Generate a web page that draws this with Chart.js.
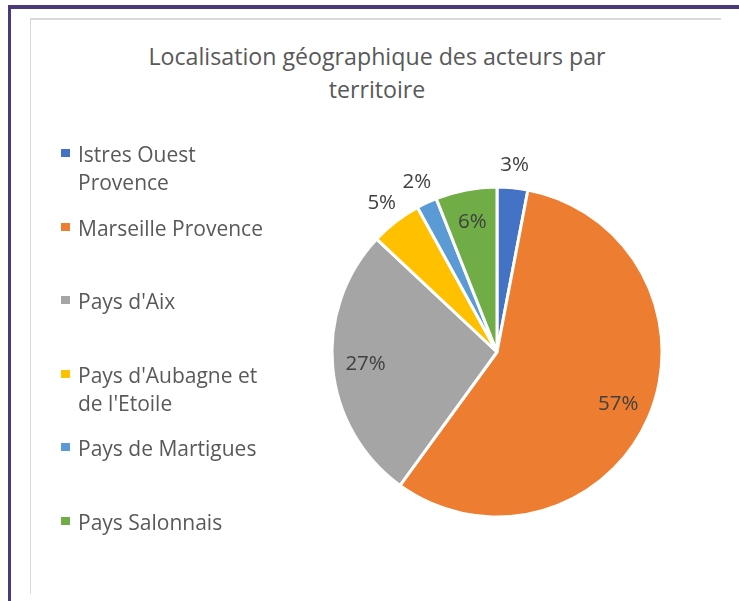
<!DOCTYPE html>
<html lang="fr">
<head>
    <meta charset="UTF-8">
    <title>Localisation géographique des acteurs</title>
    <script src="https://cdn.jsdelivr.net/npm/chart.js@4.4.1/dist/chart.umd.min.js"></script>
    <style>
        html, body { margin: 0; padding: 0; background: #fff; }
        body { width: 739px; height: 601px; position: relative; overflow: hidden; font-family: "Open Sans", sans-serif; }
        /* purple frame (left + top) */
        .frame {
            position: absolute; left: 8px; top: 5px; right: 0; bottom: 0;
            border-left: 3px solid #4a3a7c;
            border-top: 4px solid #4a3a7c;
        }
        /* light card */
        .card {
            position: absolute; left: 30px; top: 18px; width: 690px; height: 574px;
            border-left: 1px solid #d9d9d9;
            border-top: 2px solid #d9d9d9;
        }
        #title { position: absolute; left: 32px; top: 40px; width: 690px; text-align: center; color: #595959; font-size: 23.2px; line-height: 33px; }
        #chart-box { position: absolute; left: 31px; top: 20px; width: 689px; height: 572px; }
        #legend { position: absolute; left: 61px; top: 140px; margin: 0; padding: 0; list-style: none; }
        #legend li { position: relative; height: 73.6px; padding-left: 17px; width: 196px; color: #595959; font-size: 21px; line-height: 28px; }
        #legend li span.box { position: absolute; left: 0; top: 9px; width: 9px; height: 8px; }
    </style>
</head>
<body>
    <div class="frame"></div>
    <div class="card"></div>
    <div id="title"></div>
    <div id="chart-box"><canvas id="myChart"></canvas></div>
    <ul id="legend"></ul>

<script>
    // chart data
    var titleLines = ['Localisation géographique des acteurs par', 'territoire'];
    var territories = ['Istres Ouest Provence', 'Marseille Provence', "Pays d'Aix", "Pays d'Aubagne et de l'Etoile", 'Pays de Martigues', 'Pays Salonnais'];
    var shares = [3, 57, 27, 5, 2, 6];
    var colors = ['#4472C4', '#ED7D31', '#A5A5A5', '#FFC000', '#5B9BD5', '#70AD47'];

    document.getElementById('title').innerHTML = titleLines.join('<br>');

    // percent labels, small slices go outside
    var pieLabels = {
        id: 'pieLabels',
        afterDatasetsDraw: function(chart) {
            var ctx = chart.ctx;
            var meta = chart.getDatasetMeta(0);
            var total = shares.reduce(function(a, b) { return a + b; }, 0);
            ctx.save();
            ctx.font = '20.5px "Open Sans"';
            ctx.fillStyle = '#404040';
            ctx.textAlign = 'center';
            ctx.textBaseline = 'middle';
            meta.data.forEach(function(arc, i) {
                var p = arc.getProps(['x', 'y', 'startAngle', 'endAngle', 'outerRadius'], true);
                var mid = (p.startAngle + p.endAngle) / 2;
                var k = shares[i] >= 6 ? 0.8 : 1.14;
                var pct = Math.round(shares[i] / total * 100) + '%';
                ctx.fillText(pct, p.x + Math.cos(mid) * p.outerRadius * k, p.y + Math.sin(mid) * p.outerRadius * k);
            });
            ctx.restore();
        }
    };

    var myChart = new Chart(document.getElementById('myChart'), {
        type: 'pie',
        data: {
            labels: territories,
            datasets: [{
                data: shares,
                backgroundColor: colors,
                borderColor: '#ffffff',
                borderWidth: 3,
                radius: 165
            }]
        },
        options: {
            responsive: true,
            maintainAspectRatio: false,
            animation: false,
            layout: { padding: { left: 269, right: 26, top: 142, bottom: 50 } },
            plugins: {
                legend: { display: false },
                tooltip: { enabled: false },
                title: { display: false }
            }
        },
        plugins: [pieLabels]
    });

    // html legend built from the chart
    var ul = document.getElementById('legend');
    myChart.options.plugins.legend.labels.generateLabels(myChart).forEach(function(item) {
        var li = document.createElement('li');
        var box = document.createElement('span');
        box.className = 'box';
        box.style.background = item.fillStyle;
        li.appendChild(box);
        li.appendChild(document.createTextNode(item.text));
        ul.appendChild(li);
    });
</script>
</body>
</html>
